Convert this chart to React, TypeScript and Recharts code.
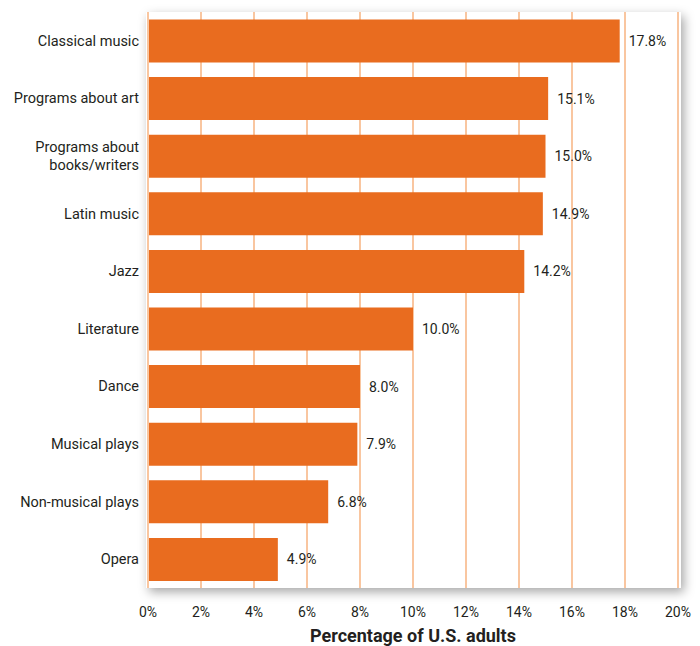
import { Bar, BarChart, CartesianGrid, LabelList, XAxis, YAxis } from "recharts";

const categories = [
  "Classical music",
  "Programs about art",
  "Programs about\nbooks/writers",
  "Latin music",
  "Jazz",
  "Literature",
  "Dance",
  "Musical plays",
  "Non-musical plays",
  "Opera",
];
const values = [17.8, 15.1, 15.0, 14.9, 14.2, 10.0, 8.0, 7.9, 6.8, 4.9];
const xTicks = [0, 2, 4, 6, 8, 10, 12, 14, 16, 18, 20];

const data = categories.map((name, i) => ({ name, value: values[i] }));

const FONT = "Roboto, 'Noto Sans', sans-serif";
const TEXT = "#231f20";

function CategoryTick({ x, y, payload }: any) {
  const lines = String(payload.value).split("\n");
  const start = -((lines.length - 1) * 18) / 2;
  return (
    <text x={x - 1} y={y} textAnchor="end" fill={TEXT} fontSize={14.5} fontFamily={FONT}>
      {lines.map((l, i) => (
        <tspan key={i} x={x - 1} dy={i === 0 ? start + 5 : 18}>
          {l}
        </tspan>
      ))}
    </text>
  );
}

function PercentTick({ x, y, payload }: any) {
  return (
    <text x={x} y={y + 21} textAnchor="middle" fill={TEXT} fontSize={14} fontFamily={FONT}>
      {payload.value}%
    </text>
  );
}

export default function App() {
  return (
    <div style={{ position: "absolute", left: 0, top: 0, width: 700, height: 646, background: "#fff" }}>
      <div
        style={{
          position: "absolute",
          left: 146,
          top: 12,
          width: 535,
          height: 576,
          background: "#fff",
          boxShadow: "3px 4px 10px rgba(0,0,0,0.35)",
        }}
      />
      <div style={{ position: "absolute", left: 0, top: 0 }}>
        <BarChart
          width={700}
          height={646}
          data={data}
          layout="vertical"
          barCategoryGap="13%"
          margin={{ top: 12, right: 22, bottom: 0, left: 0 }}
        >
          <CartesianGrid vertical horizontal={false} stroke="#f9c6a0" strokeWidth={2} />
          <XAxis
            type="number"
            domain={[0, 20]}
            ticks={xTicks}
            height={58}
            axisLine={false}
            tickLine={false}
            tick={<PercentTick />}
            interval={0}
            label={{
              value: "Percentage of U.S. adults",
              position: "insideBottom",
              offset: 4,
              fill: TEXT,
              fontSize: 18,
              fontWeight: 700,
              fontFamily: FONT,
            }}
          />
          <YAxis
            type="category"
            dataKey="name"
            width={148}
            axisLine={{ stroke: "#f9c6a0", strokeWidth: 2 }}
            tickLine={false}
            tick={<CategoryTick />}
            interval={0}
          />
          <Bar dataKey="value" fill="#e96c1f" isAnimationActive={false}>
            <LabelList
              dataKey="value"
              position="right"
              offset={9}
              fill={TEXT}
              fontSize={14}
              fontFamily={FONT}
              formatter={(v: any) => `${Number(v).toFixed(1)}%`}
            />
          </Bar>
        </BarChart>
      </div>
    </div>
  );
}
